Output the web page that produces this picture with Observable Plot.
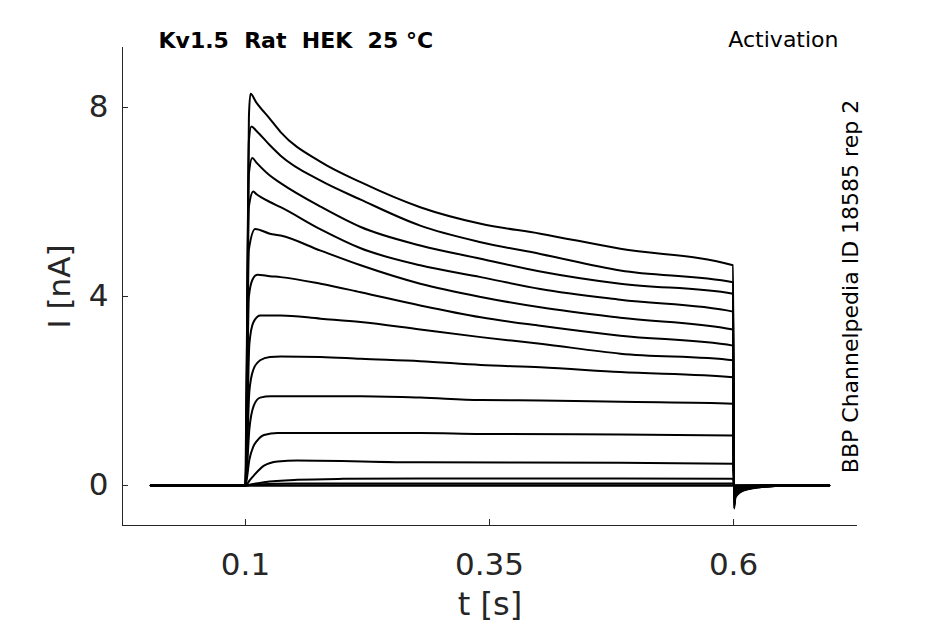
<!DOCTYPE html>
<html>
<head>
<meta charset="utf-8">
<script src="https://cdn.jsdelivr.net/npm/d3@7"></script>
<script src="https://cdn.jsdelivr.net/npm/@observablehq/plot@0.6"></script>
<style>
  html, body { margin: 0; padding: 0; background: #fff; }
  svg text { white-space: pre; }
</style>
</head>
<body>
<div id="chart"></div>
<script>
// ---- data (t in s, I in nA) ----
const title = "Kv1.5  Rat  HEK  25 °C";
const protocolLabel = "Activation";
const sourceLabel = "BBP Channelpedia ID 18585 rep 2";
const xLabel = "t [s]";
const yLabel = "I [nA]";
const xTicks = [0.1, 0.35, 0.6];
const xTickLabels = ["0.1", "0.35", "0.6"];
const yTicks = [0, 4, 8];
const yTickLabels = ["0", "4", "8"];
const xDomain = [-0.026, 0.727];
const yDomain = [-0.847, 9.27];

// holding level before the step
const preT = [0.003, 0.1];
const preI = [0, 0];

// step responses [t, I]
const trace1  = [[0.1035,7.8],[0.1051,8.29],[0.111,8.11],[0.125,7.76],[0.136,7.48],[0.177,6.85],[0.218,6.42],[0.279,5.89],[0.341,5.54],[0.402,5.33],[0.484,5.01],[0.5995,4.66]];
const trace2  = [[0.1035,7.3],[0.106,7.60],[0.111,7.51],[0.125,7.20],[0.136,6.98],[0.177,6.45],[0.218,6.05],[0.279,5.50],[0.341,5.15],[0.402,4.90],[0.484,4.55],[0.5995,4.30]];
const trace3  = [[0.1035,6.6],[0.107,6.93],[0.111,6.84],[0.125,6.56],[0.136,6.40],[0.177,5.90],[0.218,5.47],[0.279,5.08],[0.341,4.80],[0.402,4.53],[0.484,4.27],[0.5995,4.06]];
const trace4  = [[0.1035,5.9],[0.108,6.22],[0.111,6.17],[0.125,6.00],[0.136,5.89],[0.177,5.42],[0.218,5.02],[0.279,4.66],[0.341,4.41],[0.402,4.16],[0.484,3.93],[0.5995,3.68]];
const trace5  = [[0.1035,5.0],[0.110,5.43],[0.125,5.33],[0.136,5.29],[0.177,4.97],[0.218,4.66],[0.279,4.27],[0.341,3.99],[0.402,3.77],[0.484,3.55],[0.5995,3.30]];
const trace6  = [[0.1035,4.0],[0.107,4.35],[0.112,4.46],[0.125,4.43],[0.136,4.41],[0.177,4.27],[0.218,4.09],[0.279,3.81],[0.341,3.56],[0.402,3.38],[0.484,3.17],[0.5995,2.96]];
const trace7  = [[0.104,3.0],[0.108,3.45],[0.115,3.60],[0.136,3.60],[0.177,3.53],[0.218,3.46],[0.279,3.30],[0.341,3.14],[0.402,3.00],[0.484,2.79],[0.5995,2.65]];
const trace8  = [[0.104,2.0],[0.108,2.45],[0.115,2.65],[0.125,2.72],[0.136,2.73],[0.177,2.72],[0.218,2.68],[0.279,2.63],[0.341,2.55],[0.402,2.50],[0.484,2.40],[0.5995,2.29]];
const trace9  = [[0.104,1.2],[0.1085,1.69],[0.115,1.86],[0.126,1.89],[0.218,1.89],[0.279,1.86],[0.341,1.81],[0.402,1.80],[0.484,1.77],[0.5995,1.73]];
const trace10 = [[0.104,0.55],[0.108,0.82],[0.112,0.95],[0.119,1.07],[0.133,1.11],[0.279,1.11],[0.341,1.09],[0.484,1.08],[0.5995,1.06]];
const trace11 = [[0.104,0.10],[0.1085,0.21],[0.119,0.42],[0.133,0.51],[0.153,0.53],[0.279,0.49],[0.484,0.48],[0.5995,0.46]];
const trace12 = [[0.105,0.02],[0.119,0.07],[0.153,0.12],[0.200,0.14],[0.279,0.15],[0.484,0.15],[0.5995,0.14]];
const trace13 = [[0.110,0.02],[0.150,0.04],[0.5995,0.04]];
const trace14 = [[0.5995,0.0]];
const trace15 = [[0.5995,0.0]];

// tail currents after the step
const tailT = [0.6005, 0.602, 0.607, 0.617, 0.634, 0.66, 0.698];
const tail1  = [-0.49,-0.25,-0.14,-0.07,-0.02,0,0];
const tail2  = [-0.45,-0.23,-0.13,-0.065,-0.02,0,0];
const tail3  = [-0.42,-0.21,-0.12,-0.06,-0.02,0,0];
const tail4  = [-0.38,-0.19,-0.11,-0.055,-0.015,0,0];
const tail5  = [-0.34,-0.17,-0.10,-0.05,-0.015,0,0];
const tail6  = [-0.30,-0.15,-0.085,-0.04,-0.01,0,0];
const tail7  = [-0.26,-0.13,-0.075,-0.035,-0.01,0,0];
const tail8  = [-0.22,-0.11,-0.06,-0.03,-0.01,0,0];
const tail9  = [-0.16,-0.08,-0.045,-0.02,-0.005,0,0];
const tail10 = [-0.10,-0.05,-0.03,-0.015,0,0,0];
const tail11 = [-0.05,-0.025,-0.015,-0.01,0,0,0];
const tail12 = [-0.02,-0.01,-0.005,0,0,0,0];
const tail13 = [0,0,0,0,0,0,0];
const tail14 = [0,0,0,0,0,0,0];
const tail15 = [0,0,0,0,0,0,0];

const steps = [trace1,trace2,trace3,trace4,trace5,trace6,trace7,trace8,trace9,trace10,trace11,trace12,trace13,trace14,trace15];
const tails = [tail1,tail2,tail3,tail4,tail5,tail6,tail7,tail8,tail9,tail10,tail11,tail12,tail13,tail14,tail15];

const rows = [];
steps.forEach((step, k) => {
  preT.forEach((t, i) => rows.push({trace: k, t, I: preI[i]}));
  step.forEach(([t, I]) => rows.push({trace: k, t, I}));
  tailT.forEach((t, i) => rows.push({trace: k, t, I: tails[k][i]}));
});

const W = 945, H = 624;
const mL = 122, mR = 88, mT = 47, mB = 99;
const frameW = W - mL - mR, frameH = H - mT - mB;
const axisColor = "#262626";

const chart = Plot.plot({
  width: W,
  height: H,
  marginLeft: mL,
  marginRight: mR,
  marginTop: mT,
  marginBottom: mB,
  style: {fontFamily: "DejaVu Sans", background: "white", overflow: "visible"},
  x: {domain: xDomain, axis: null},
  y: {domain: yDomain, axis: null},
  marks: [
    // axis lines
    Plot.ruleX([xDomain[0]], {stroke: axisColor, strokeWidth: 1}),
    Plot.ruleY([yDomain[0]], {stroke: axisColor, strokeWidth: 1}),
    // inward ticks
    Plot.tickX(xTicks, {x: d => d, stroke: axisColor, insetTop: frameH - 6}),
    Plot.tickY(yTicks, {y: d => d, stroke: axisColor, insetRight: frameW - 6}),
    // tick labels
    Plot.text(xTicks, {x: d => d, text: (d, i) => xTickLabels[i], frameAnchor: "bottom", dy: 40, fontSize: 31, fill: axisColor, textAnchor: "middle", lineAnchor: "middle"}),
    Plot.text(yTicks, {y: d => d, text: (d, i) => yTickLabels[i], frameAnchor: "left", dx: -14, textAnchor: "end", fontSize: 31, fill: axisColor, lineAnchor: "middle"}),
    // axis labels
    Plot.text([xLabel], {text: d => d, frameAnchor: "bottom", dy: 79, fontSize: 32, fill: axisColor, textAnchor: "middle", lineAnchor: "middle"}),
    Plot.text([yLabel], {text: d => d, frameAnchor: "left", dx: -62, rotate: -90, fontSize: 31, fill: axisColor, textAnchor: "middle", lineAnchor: "middle"}),
    // traces
    Plot.line(rows, {x: "t", y: "I", z: "trace", stroke: "black", strokeWidth: 2, curve: "monotone-x"}),
    // annotations
    Plot.text([title], {text: d => d, frameAnchor: "top-left", dx: 36, dy: -7, textAnchor: "start", fontWeight: "bold", fontSize: 22, fill: "black", lineAnchor: "middle"}),
    Plot.text([protocolLabel], {text: d => d, frameAnchor: "top-right", dx: -19, dy: -8, textAnchor: "end", fontSize: 22, fill: "black", lineAnchor: "middle"}),
    Plot.text([sourceLabel], {text: d => d, frameAnchor: "right", dx: -7, rotate: -90, fontSize: 22, fill: "black", textAnchor: "middle", lineAnchor: "middle"})
  ]
});

document.getElementById("chart").appendChild(chart);
</script>
</body>
</html>
